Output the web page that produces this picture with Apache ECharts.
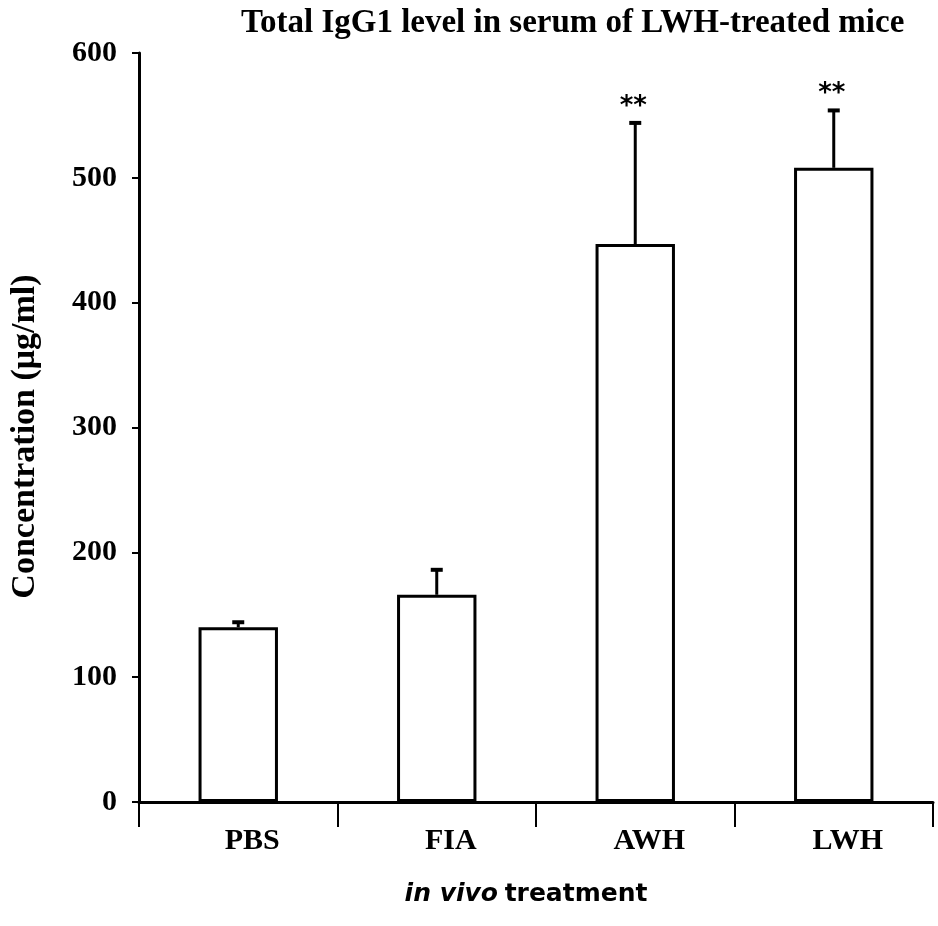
<!DOCTYPE html>
<html>
<head>
<meta charset="utf-8">
<script src="https://cdn.jsdelivr.net/npm/echarts@6/dist/echarts.min.js"></script>
<style>
  html, body { margin: 0; padding: 0; background: #fff; }
  #chart { width: 938px; height: 926px; }
</style>
</head>
<body>
<div id="chart"></div>
<script>
// data
var groups = ['PBS', 'FIA', 'AWH', 'LWH'];
var means = [140, 166, 447, 508];
var errUp = [144, 186, 544, 554];
var marks = ['', '', '**', '**'];
var yTicks = [0, 100, 200, 300, 400, 500, 600];

var serif = '"Liberation Serif", "Times New Roman", serif';
var sans = '"DejaVu Sans", sans-serif';

var chart = echarts.init(document.getElementById('chart'));

var errData = groups.map(function (g, i) {
  return [i, means[i], errUp[i]];
});

var option = {
  animation: false,
  backgroundColor: '#fff',
  title: {
    text: 'Total IgG1 level in serum of LWH-treated mice',
    left: 236,
    top: 2,
    textStyle: { fontFamily: serif, fontWeight: 'bold', fontSize: 33, color: '#000' }
  },
  grid: { left: 137, right: 5, top: 53, bottom: 124 },
  xAxis: {
    type: 'category',
    data: groups,
    boundaryGap: true,
    axisLine: { lineStyle: { color: '#000', width: 3 } },
    axisTick: { show: true, length: 25, lineStyle: { color: '#000', width: 2 } },
    axisLabel: {
      color: '#000', fontFamily: serif, fontWeight: 'bold', fontSize: 30,
      margin: 24, padding: [0, 0, 0, 28]
    },
    name: '{i|in vivo}  {b|treatment}',
    nameLocation: 'middle',
    nameGap: 80,
    nameTextStyle: {
      padding: [0, 20, 0, 0],
      rich: {
        i: { fontFamily: sans, fontStyle: 'italic', fontWeight: 'bold', fontSize: 25, color: '#000' },
        b: { fontFamily: sans, fontWeight: 'bold', fontSize: 25, color: '#000' }
      }
    }
  },
  yAxis: {
    type: 'value',
    min: 0,
    max: 600,
    interval: 100,
    splitLine: { show: false },
    axisLine: { show: true, lineStyle: { color: '#000', width: 3 } },
    axisTick: { show: true, length: 7, lineStyle: { color: '#000', width: 2 } },
    axisLabel: { color: '#000', fontFamily: serif, fontWeight: 'bold', fontSize: 30, margin: 22 },
    name: 'Concentration (μg/ml)',
    nameLocation: 'middle',
    nameGap: 97,
    nameTextStyle: { color: '#000', fontFamily: serif, fontWeight: 'bold', fontSize: 34, padding: [0, 18, 0, 0] }
  },
  series: [
    {
      type: 'bar',
      data: means,
      barWidth: '40%',
      itemStyle: { color: '#fff', borderColor: '#000', borderWidth: 3 },
      z: 2
    },
    {
      type: 'custom',
      data: errData,
      z: 3,
      renderItem: function (params, api) {
        var x = api.value(0);
        var base = api.coord([x, api.value(1)]);
        var top = api.coord([x, api.value(2)]);
        var children = [
          { type: 'line', shape: { x1: base[0], y1: base[1], x2: top[0], y2: top[1] },
            style: { stroke: '#000', lineWidth: 3 } },
          { type: 'line', shape: { x1: top[0] - 6, y1: top[1], x2: top[0] + 6, y2: top[1] },
            style: { stroke: '#000', lineWidth: 4 } }
        ];
        var mk = marks[params.dataIndex];
        if (mk) {
          children.push({
            type: 'text',
            x: top[0] - 2,
            y: top[1] - 16,
            style: {
              text: mk, fill: '#000', align: 'center', verticalAlign: 'middle',
              font: 'bold 26px ' + sans
            }
          });
        }
        return { type: 'group', children: children };
      }
    }
  ]
};

chart.setOption(option);
</script>
</body>
</html>
